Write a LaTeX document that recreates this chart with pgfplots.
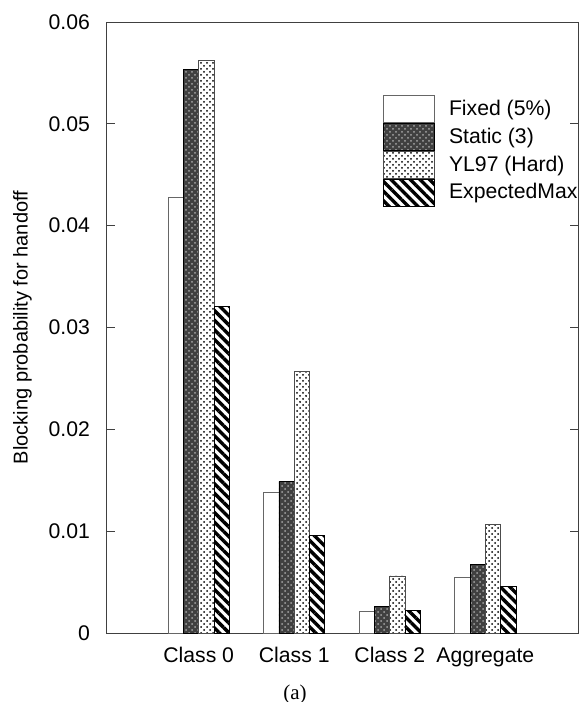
\documentclass[border=0pt]{standalone}
\usepackage{pgfplots}
\usepackage{pgfplotstable}
\pgfplotsset{compat=1.18}
\usepackage{fontspec}
\setmainfont{Liberation Sans}
\newfontfamily\capfont{Liberation Serif}
\usetikzlibrary{patterns,patterns.meta}

\pgfplotstableread{
x fixed static yl em
0 0.0428 0.0553 0.0562 0.0321
1 0.0138 0.0149 0.0257 0.0096
2 0.0021 0.0026 0.0056 0.0022
3 0.0055 0.0067 0.0107 0.0046
}\datatable

\pgfplotsset{mylegend/.style={legend image code/.code={\draw[##1] (0pt,-6.75pt) rectangle (25.65pt,6.75pt);}}}
\newcommand{\chartfont}{\fontsize{10.6}{12.7}\selectfont}

\begin{document}
\begin{tikzpicture}
\path[use as bounding box] (-53.5pt,-34.5pt) rectangle (238.5pt,316.5pt);
\begin{axis}[
  scale only axis, width=235.5pt, height=305.5pt,
  ybar=0pt, bar width=0.16,
  xmin=-0.96, xmax=3.97, ymin=0, ymax=0.06,
  xtick={0,1,2,3}, xticklabels={Class 0,Class 1,Class 2,Aggregate},
  xtick style={draw=none},
  ytick={0,0.01,0.02,0.03,0.04,0.05,0.06},
  ytick pos=both, tick align=inside, major tick length=4pt,
  scaled y ticks=false,
  /pgf/number format/assume math mode=true,
  yticklabel style={/pgf/number format/fixed, /pgf/number format/precision=2, xshift=-5pt},
  xticklabel style={yshift=-3.7pt},
  tick label style={font=\chartfont},
  label style={font=\chartfont},
  axis line style={black!75, line width=0.5pt},
  ytick style={black!75, line width=0.5pt},
  ylabel={Blocking probability for handoff},
  every axis y label/.style={at={(axis description cs:-0.1794,0.5)}, rotate=90, anchor=center},
  legend style={at={(rel axis cs:0.585,0.8805)}, anchor=north west, draw=none, fill=none,
    inner sep=0pt, row sep=0pt, column sep=7pt, cells={anchor=west}, nodes={inner sep=0pt},
    font=\chartfont},
]
\addplot[draw=black!60, fill=white, line width=0.4pt, mylegend] table[x=x,y=fixed]{\datatable};
\addplot[draw=black, fill=black!75, line width=0.4pt, postaction={pattern=crosshatch dots, pattern color=black!35}, mylegend] table[x=x,y=static]{\datatable};
\addplot[draw=black!70, fill=white, line width=0.4pt, postaction={pattern=crosshatch dots, pattern color=black}, mylegend] table[x=x,y=yl]{\datatable};
\addplot[draw=black, fill=white, line width=0.4pt, postaction={pattern={Lines[angle=-45,distance=3.4pt,line width=1.7pt]}, pattern color=black}, mylegend] table[x=x,y=em]{\datatable};
\legend{Fixed (5\%), Static (3), YL97 (Hard), ExpectedMax}
\end{axis}
\node[font=\capfont\fontsize{10.5}{12}\selectfont] at (94pt,-30.5pt) {(a)};
\end{tikzpicture}
\end{document}
